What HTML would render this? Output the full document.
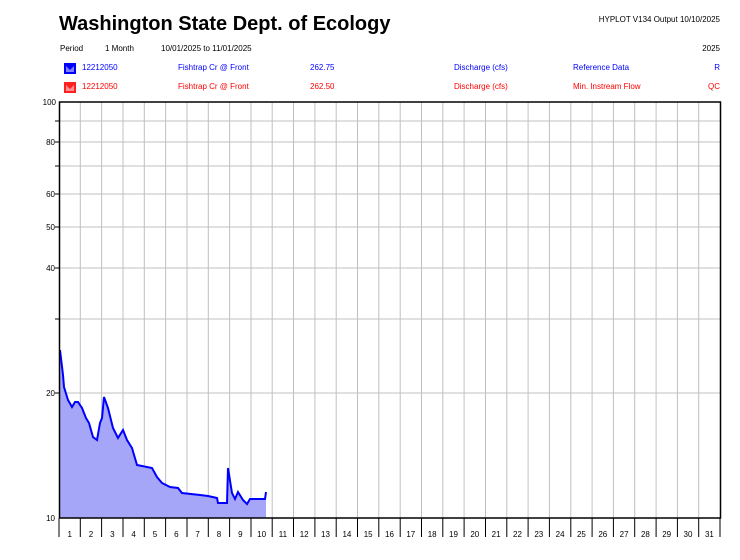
<!DOCTYPE html>
<html><head><style>
body{margin:0;background:#fff;width:740px;height:555px;overflow:hidden;font-family:"Liberation Sans",Arial,sans-serif}
</style></head><body>
<svg width="740" height="555" xmlns="http://www.w3.org/2000/svg" font-family="Liberation Sans, Arial, sans-serif">
<text x="59" y="30" font-size="20" font-weight="bold">Washington State Dept. of Ecology</text>
<text x="720" y="22" font-size="8" text-anchor="end">HYPLOT V134  Output 10/10/2025</text>
<text x="60" y="51" font-size="8">Period</text>
<text x="105" y="51" font-size="8">1 Month</text>
<text x="161" y="51" font-size="8">10/01/2025  to  11/01/2025</text>
<text x="720" y="51" font-size="8" text-anchor="end">2025</text>
<g font-size="8" fill="#0000ff">
<path d="M64 63 h12 v11 h-12z" fill="#0000ff"/><path d="M66 66 l4 4 l4 -4 v6 h-8z" fill="#8080ff"/>
<text x="82" y="70">12212050</text><text x="178" y="70">Fishtrap Cr @ Front</text><text x="310" y="70">262.75</text>
<text x="454" y="70">Discharge (cfs)</text><text x="573" y="70">Reference Data</text><text x="720" y="70" text-anchor="end">R</text>
</g>
<g font-size="8" fill="#ff0000">
<path d="M64 82 h12 v11 h-12z" fill="#ff2020"/><path d="M66 85 l4 4 l4 -4 v6 h-8z" fill="#ff9090"/>
<text x="82" y="89">12212050</text><text x="178" y="89">Fishtrap Cr @ Front</text><text x="310" y="89">262.50</text>
<text x="454" y="89">Discharge (cfs)</text><text x="573" y="89">Min. Instream Flow</text><text x="720" y="89" text-anchor="end">QC</text>
</g>
<g stroke="#c0c0c0" stroke-width="1">
<line x1="59" x2="720" y1="121" y2="121"/><line x1="59" x2="720" y1="142" y2="142"/><line x1="59" x2="720" y1="166" y2="166"/>
<line x1="59" x2="720" y1="194" y2="194"/><line x1="59" x2="720" y1="227" y2="227"/><line x1="59" x2="720" y1="268" y2="268"/>
<line x1="59" x2="720" y1="319" y2="319"/><line x1="59" x2="720" y1="393" y2="393"/>
<line x1="80.3" x2="80.3" y1="102" y2="518"/><line x1="101.6" x2="101.6" y1="102" y2="518"/><line x1="123" x2="123" y1="102" y2="518"/><line x1="144.3" x2="144.3" y1="102" y2="518"/><line x1="165.6" x2="165.6" y1="102" y2="518"/><line x1="187" x2="187" y1="102" y2="518"/><line x1="208.3" x2="208.3" y1="102" y2="518"/><line x1="229.6" x2="229.6" y1="102" y2="518"/><line x1="251" x2="251" y1="102" y2="518"/><line x1="272.2" x2="272.2" y1="102" y2="518"/><line x1="293.5" x2="293.5" y1="102" y2="518"/><line x1="314.9" x2="314.9" y1="102" y2="518"/><line x1="336.2" x2="336.2" y1="102" y2="518"/><line x1="357.5" x2="357.5" y1="102" y2="518"/><line x1="378.8" x2="378.8" y1="102" y2="518"/><line x1="400.2" x2="400.2" y1="102" y2="518"/><line x1="421.5" x2="421.5" y1="102" y2="518"/><line x1="442.8" x2="442.8" y1="102" y2="518"/><line x1="464.1" x2="464.1" y1="102" y2="518"/><line x1="485.5" x2="485.5" y1="102" y2="518"/><line x1="506.8" x2="506.8" y1="102" y2="518"/><line x1="528.1" x2="528.1" y1="102" y2="518"/><line x1="549.4" x2="549.4" y1="102" y2="518"/><line x1="570.8" x2="570.8" y1="102" y2="518"/><line x1="592.1" x2="592.1" y1="102" y2="518"/><line x1="613.4" x2="613.4" y1="102" y2="518"/><line x1="634.7" x2="634.7" y1="102" y2="518"/><line x1="656.1" x2="656.1" y1="102" y2="518"/><line x1="677.4" x2="677.4" y1="102" y2="518"/><line x1="698.7" x2="698.7" y1="102" y2="518"/>
</g>
<polygon fill="#a6a6f8" points="60,518 60,350 63,375 64,387 68,400 72,407 75,402 78,402 82,408 86,418 89,423 93,437 97,440 100,423 102,418 104,397 108,408 113,428 118,438 123,430 127,440 132,448 137,465 152,468 157,477 162,483 170,487 178,488 182,493 200,495 208,496 217,498 218,503 227,503 228,468 232,493 235,499 238,492 243,500 247,504 250,499 265,499 266,492 266,518"/>
<polyline fill="none" stroke="#0000ff" stroke-width="2" points="60,350 63,375 64,387 68,400 72,407 75,402 78,402 82,408 86,418 89,423 93,437 97,440 100,423 102,418 104,397 108,408 113,428 118,438 123,430 127,440 132,448 137,465 152,468 157,477 162,483 170,487 178,488 182,493 200,495 208,496 217,498 218,503 227,503 228,468 232,493 235,499 238,492 243,500 247,504 250,499 265,499 266,492"/>
<rect x="59.5" y="102" width="661" height="416" fill="none" stroke="#000" stroke-width="1.5"/>
<g stroke="#000" stroke-width="1">
<line x1="55" x2="59" y1="121" y2="121"/><line x1="55" x2="59" y1="142" y2="142"/><line x1="55" x2="59" y1="166" y2="166"/><line x1="55" x2="59" y1="194" y2="194"/><line x1="55" x2="59" y1="227" y2="227"/><line x1="55" x2="59" y1="268" y2="268"/><line x1="55" x2="59" y1="319" y2="319"/><line x1="55" x2="59" y1="393" y2="393"/>
<line x1="59" x2="59" y1="518" y2="537"/><line x1="80.3" x2="80.3" y1="518" y2="537"/><line x1="101.6" x2="101.6" y1="518" y2="537"/><line x1="123" x2="123" y1="518" y2="537"/><line x1="144.3" x2="144.3" y1="518" y2="537"/><line x1="165.6" x2="165.6" y1="518" y2="537"/><line x1="187" x2="187" y1="518" y2="537"/><line x1="208.3" x2="208.3" y1="518" y2="537"/><line x1="229.6" x2="229.6" y1="518" y2="537"/><line x1="251" x2="251" y1="518" y2="537"/><line x1="272.2" x2="272.2" y1="518" y2="537"/><line x1="293.5" x2="293.5" y1="518" y2="537"/><line x1="314.9" x2="314.9" y1="518" y2="537"/><line x1="336.2" x2="336.2" y1="518" y2="537"/><line x1="357.5" x2="357.5" y1="518" y2="537"/><line x1="378.8" x2="378.8" y1="518" y2="537"/><line x1="400.2" x2="400.2" y1="518" y2="537"/><line x1="421.5" x2="421.5" y1="518" y2="537"/><line x1="442.8" x2="442.8" y1="518" y2="537"/><line x1="464.1" x2="464.1" y1="518" y2="537"/><line x1="485.5" x2="485.5" y1="518" y2="537"/><line x1="506.8" x2="506.8" y1="518" y2="537"/><line x1="528.1" x2="528.1" y1="518" y2="537"/><line x1="549.4" x2="549.4" y1="518" y2="537"/><line x1="570.8" x2="570.8" y1="518" y2="537"/><line x1="592.1" x2="592.1" y1="518" y2="537"/><line x1="613.4" x2="613.4" y1="518" y2="537"/><line x1="634.7" x2="634.7" y1="518" y2="537"/><line x1="656.1" x2="656.1" y1="518" y2="537"/><line x1="677.4" x2="677.4" y1="518" y2="537"/><line x1="698.7" x2="698.7" y1="518" y2="537"/><line x1="720" x2="720" y1="518" y2="537"/>
</g>
<g font-size="8" text-anchor="end">
<text x="56" y="105">100</text><text x="55" y="145">80</text><text x="55" y="197">60</text><text x="55" y="230">50</text><text x="55" y="271">40</text><text x="55" y="396">20</text><text x="55" y="521">10</text>
</g>
<g font-size="8" text-anchor="middle">
<text x="69.7" y="537">1</text><text x="91" y="537">2</text><text x="112.3" y="537">3</text><text x="133.6" y="537">4</text><text x="155" y="537">5</text><text x="176.3" y="537">6</text><text x="197.6" y="537">7</text><text x="219" y="537">8</text><text x="240.3" y="537">9</text><text x="261.6" y="537">10</text><text x="282.9" y="537">11</text><text x="304.2" y="537">12</text><text x="325.5" y="537">13</text><text x="346.9" y="537">14</text><text x="368.2" y="537">15</text><text x="389.5" y="537">16</text><text x="410.8" y="537">17</text><text x="432.2" y="537">18</text><text x="453.5" y="537">19</text><text x="474.8" y="537">20</text><text x="496.1" y="537">21</text><text x="517.5" y="537">22</text><text x="538.8" y="537">23</text><text x="560.1" y="537">24</text><text x="581.4" y="537">25</text><text x="602.8" y="537">26</text><text x="624.1" y="537">27</text><text x="645.4" y="537">28</text><text x="666.7" y="537">29</text><text x="688" y="537">30</text><text x="709.4" y="537">31</text>
</g>
</svg>
</body></html>
